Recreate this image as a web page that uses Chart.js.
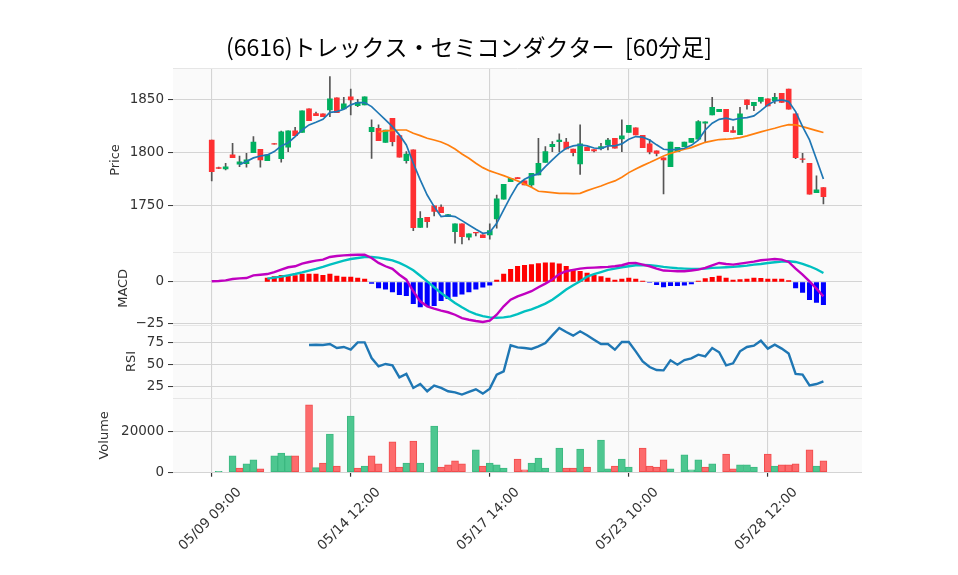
<!DOCTYPE html>
<html>
<head>
<meta charset="utf-8">
<script src="https://cdn.jsdelivr.net/npm/chart.js@4.4.1/dist/chart.umd.min.js"></script>
<style>
html,body{margin:0;padding:0;background:#fff;}
#wrap{width:958px;height:575px;position:relative;}
</style>
</head>
<body>
<div id="wrap"><canvas id="c" width="958" height="575"></canvas></div>
<script>
const chartTitle = '(6616)トレックス・セミコンダクター  [60分足]';
const xTickValues = [0, 20, 40, 60, 80];
const xTickLabels = ['05/09 09:00', '05/14 12:00', '05/17 14:00', '05/23 10:00', '05/28 12:00'];
const priceTicks = [1750, 1800, 1850];
const macdTicks = [-25, 0];
const rsiTicks = [25, 50, 75];
const volumeTicks = [0, 20000];

const opens = [1811.6,1785.5,1784.3,1797.5,1788.7,1789.3,1799.7,1802.8,1792.1,1808.3,
1794,1804.7,1820.1,1818.6,1840.9,1836.5,1836.2,1840,1851.3,1840.9,
1852.2,1844,1844.7,1819.5,1822.6,1809.4,1832,1815.7,1792.1,1802.2,
1729.2,1738.7,1749.4,1748.4,1739.3,1725.2,1732.4,1719.8,1724.5,1722,
1722,1737.1,1755.7,1772.3,1776,1773,1769.2,1778.6,1790.3,1805.3,
1810,1809.7,1803.1,1789,1804.7,1802.5,1803.5,1806.9,1813.2,1812.6,
1818.6,1823,1816,1807.9,1801.3,1794.7,1786.5,1800.6,1805.3,1809.4,
1812.3,1827.4,1835.2,1838.4,1840.6,1820.4,1816.7,1849.4,1844,1848,
1850.3,1848.7,1855.7,1859.7,1836.2,1793.9,1789.6,1762,1766.7];
const highs = [1811.6,1786,1789.6,1808.5,1796.5,1799,1814.8,1802.8,1797.5,1808.3,
1820,1820.1,1823.6,1839,1840.9,1837.8,1836.2,1871.4,1851.3,1851.9,
1859.7,1850,1852.2,1830.5,1825.8,1821,1832,1815.7,1800.6,1802.2,
1744,1738.7,1749.4,1750.3,1741.5,1732.4,1732.4,1723,1724.5,1722,
1732.4,1759.7,1769.8,1775.5,1776,1773,1780.2,1813.2,1805.3,1810,
1817.3,1813.2,1803.1,1825.8,1804.7,1802.5,1808.5,1813.2,1813.2,1830.5,
1825.5,1823,1816,1812.3,1801.3,1794.7,1809.7,1804.7,1809.7,1813.2,
1830,1828.6,1851.9,1840.6,1840.6,1824.2,1842.5,1849.4,1847.2,1851.9,
1850.3,1855.7,1855.7,1859.7,1836.2,1799,1789.6,1777.7,1766.7];
const lows = [1773,1784.5,1783.3,1795,1786.5,1786,1799.7,1786,1792.1,1807.6,
1790.6,1800.6,1815.7,1818.6,1829.9,1834.6,1833.6,1833.6,1837.4,1840.9,
1835.2,1843,1844.7,1794.3,1811,1809.4,1806,1795.3,1789.6,1726.1,
1729.2,1729.2,1740,1743.1,1739.3,1714.2,1713.5,1717.3,1721,1719.5,
1718,1728.3,1755.7,1772.3,1775,1769.2,1767,1778.6,1790.3,1800.6,
1800.6,1803.1,1796.5,1779.2,1801.6,1800.3,1802.2,1802.2,1803.8,1800.6,
1818.6,1816.4,1804.4,1798.4,1796.5,1760.7,1786.5,1800.6,1805.3,1809.4,
1812.3,1810,1835.2,1838.4,1819.5,1818.6,1816.7,1840.6,1839.3,1846.3,
1843.7,1846,1846.9,1840.6,1794,1790.3,1760.4,1762,1751.3];
const closes = [1781.8,1784.8,1786.2,1795,1790.9,1792.8,1809.7,1792.8,1797.5,1807.6,
1819.2,1820.1,1815.7,1839,1829.9,1834.6,1833.6,1850.3,1837.4,1845.6,
1849.4,1847.2,1852.2,1823.6,1811,1821,1810,1795.3,1798.4,1728.9,
1737.7,1734.6,1744.3,1743.1,1741.2,1732.4,1720.4,1723,1723.8,1719.5,
1726.1,1756,1769.8,1775.5,1775,1769.2,1780.2,1789.6,1800.6,1807.5,
1811.6,1803.1,1799.7,1807.9,1801.6,1801.3,1805.3,1811.6,1803.8,1815.4,
1825.5,1816.4,1804.4,1800.3,1799,1792.8,1809.7,1804.7,1809.7,1813.2,
1829,1828.6,1842.5,1840.6,1819.5,1818.6,1836.2,1845,1847.2,1851.9,
1843.7,1851.9,1846.9,1840.6,1795,1793.2,1760.4,1764.5,1758.2];
const volumes = [0,500,0,7970,2110,4070,6020,1630,0,7970,
9430,7970,7970,0,32850,2280,4550,18700,3090,0,
27480,2110,3090,7970,4070,0,14800,2600,4550,15280,
4550,0,22600,2600,3580,5530,4070,0,10900,3090,
4550,3580,2110,0,6500,1140,4550,6990,2110,0,
11870,2110,2110,11380,2600,0,15770,1630,3090,6500,
2600,0,11870,3090,2600,6020,1630,0,8460,1140,
6020,2600,4070,0,8940,1630,3580,3580,2600,0,
8940,3090,3580,3580,4070,0,10900,3090,5530];
const maShort = [null,null,null,null,1788.4,1791.2,1794.7,1796.5,1797.5,1800.6,
1806,1809,1814.8,1821,1825.8,1828.3,1831.1,1837.7,1838.4,1840.6,
1844.7,1846.9,1846.9,1843.1,1836.8,1830.5,1824.2,1816.4,1806.9,1789.6,
1773.9,1759.7,1748.7,1739.3,1740.3,1739.3,1735.5,1731.4,1727.4,1723.6,
1724.5,1733,1745.6,1758.2,1769.2,1774.5,1777.7,1779.6,1786.5,1792.8,
1799,1803.8,1806,1807,1806,1804,1803.5,1806,1806,1807.9,
1812.3,1814.8,1814.2,1811.6,1807,1802.8,1802.2,1802.8,1803.8,1806.5,
1811.5,1821,1827.4,1831.1,1832.1,1830.5,1832.1,1832.7,1834.3,1839.3,
1844.7,1848.4,1849.4,1847.8,1838.4,1824.2,1811.6,1793.4,1774.8];
const maLong = [null,null,null,null,null,null,null,null,null,null,
null,null,null,null,null,null,null,null,null,null,
null,null,null,null,1819.2,1820.1,1820.7,1821,1821,1817.9,
1815.7,1813.2,1811.6,1809.7,1806.9,1803.1,1798.4,1794.3,1789.6,1785.5,
1782.4,1780.2,1778,1775.5,1773,1770.1,1767,1763.2,1762.6,1762,
1761.3,1761.2,1761,1761.3,1763.8,1766,1768.2,1770.8,1773,1776.4,
1780.8,1784.3,1787.4,1790.3,1793.4,1796.5,1799,1800.9,1802.8,1804.4,
1807,1809.4,1810.7,1812,1812.3,1812.9,1813.8,1815.4,1817.3,1819.2,
1821,1822.6,1824.5,1826.1,1825.8,1824.2,1822.3,1820.4,1818.6];
const macdLine = [0.4,0.6,1.0,1.8,2.2,2.4,4.0,4.4,4.8,6.0,
7.5,8.9,9.5,11.1,12.1,12.9,13.5,15.1,15.7,16.1,
16.3,16.5,16.5,14.5,11.5,9.5,7.9,4.4,1.4,-5.6,
-11.7,-14.7,-16.1,-17.3,-18.3,-19.8,-21.8,-22.8,-23.6,-24.2,
-23.4,-19.8,-14.7,-10.7,-8.7,-7.2,-5.6,-3.2,-1.0,1.5,
4.8,6.5,7.3,8.1,8.5,8.7,8.9,9.1,9.5,10.1,
11.3,11.5,10.5,9.5,8.1,6.9,6.7,6.5,6.5,6.9,
7.5,8.5,10.1,11.5,10.9,10.5,11.1,11.7,12.3,13.1,
13.5,13.9,13.5,12.1,8.1,4.4,0.4,-4.0,-8.7];
const signalLine = [null,null,null,null,null,null,null,null,2.0,2.6,
3.2,4.0,4.8,5.8,6.9,7.9,9.1,10.5,11.7,12.9,
13.9,14.5,15.1,15.1,14.7,13.9,13.1,11.5,9.5,7.1,
3.8,0.4,-3.2,-6.7,-9.7,-12.7,-15.3,-17.7,-19.4,-20.6,
-21.4,-21.6,-21.4,-20.8,-19.4,-17.7,-16.5,-14.9,-13.1,-10.7,
-7.7,-4.6,-2.0,0.4,3.2,4.8,6.0,7.3,8.1,8.9,
9.5,10.1,10.3,10.1,9.7,9.1,8.7,8.3,8.1,7.9,
7.9,8.1,8.5,8.7,8.9,9.1,9.5,9.9,10.5,10.9,
11.5,11.9,12.3,12.5,12.1,10.9,9.5,7.7,5.4];
const macdHist = [null,null,null,null,null,null,null,null,2.4,3.2,
4.0,4.0,3.8,4.8,4.8,4.8,4.0,4.8,3.6,3.0,
3.0,2.4,1.8,-0.8,-3.6,-4.4,-6.0,-7.7,-8.3,-13.1,
-15.1,-14.3,-14.3,-11.3,-10.1,-8.7,-7.3,-6.0,-4.4,-3.2,
-2.0,1.2,4.8,7.7,9.5,10.1,10.5,11.1,11.5,11.5,
10.9,9.5,7.5,6.5,5.4,4.0,3.2,2.4,1.2,1.8,
2.4,1.8,0.6,-0.3,-1.6,-3.0,-2.2,-2.2,-2.0,-1.2,
0.6,2.0,2.8,3.6,2.4,1.2,1.4,1.8,2.4,2.2,
1.8,1.8,1.8,0.8,-3.6,-6.3,-10.7,-12.3,-13.7];
const rsiLine = [null,null,null,null,null,null,null,null,null,null,
null,null,null,null,72.0,72.3,72.0,73.1,68.5,69.7,
66.6,75.0,75.0,57.1,47.6,50.3,48.7,35.0,38.9,22.9,
27.4,19.1,25.5,22.9,19.1,17.9,15.3,18.3,21.3,16.4,
22.1,38.1,41.9,71.6,69.3,68.5,67.4,70.4,74.2,83.0,
91.4,86.8,82.6,87.6,83.0,78.0,73.1,73.1,66.6,75.4,
75.4,64.7,53.3,46.8,43.4,43.0,54.5,49.5,54.8,56.7,
60.9,59.0,68.5,63.6,48.7,51.0,64.7,69.7,71.2,76.9,
67.8,72.3,67.8,62.1,38.9,38.1,25.9,27.4,30.5];

const UP = '#00b060', DOWN = '#fe3032';
const VUP = '#4dc790', VDOWN = '#fd6b6c';
const GRID = '#d4d4d4';
const TICKCOL = '#333333';
const FONT = 'DejaVu Sans';

const pts = arr => arr.map((v, i) => ({x: i, y: v})).filter(p => p.y !== null);

const bodies = opens.map((o, i) => ({x: i, y: [o, closes[i]]}));
const wicks = lows.map((l, i) => ({x: i, y: [l, highs[i]]}));
const vols = volumes.map((v, i) => ({x: i, y: v}));

const plainLabel = v => v < 0 ? '\u2212' + Math.abs(v) : String(v);

function yAxis(opts) {
  return Object.assign({
    type: 'linear', axis: 'y', position: 'left', stack: 'panels',
    border: {display: false},
    grid: {color: GRID, lineWidth: 1.1, drawTicks: true, tickLength: 5, tickColor: TICKCOL, tickWidth: 1},
    ticks: {font: {family: FONT, size: 13.5}, color: TICKCOL, padding: 4, callback: plainLabel},
    afterFit: s => { s.width = 97; }
  }, opts);
}

const bgPlugin = {
  id: 'bg',
  beforeDraw(chart) {
    const {ctx, chartArea: a} = chart;
    ctx.save();
    ctx.fillStyle = '#ffffff';
    ctx.fillRect(0, 0, chart.width, chart.height);
    ctx.fillStyle = '#fafafa';
    ctx.fillRect(a.left, a.top, a.right - a.left, a.bottom - a.top);
    ctx.restore();
  },
  beforeDatasetsDraw(chart) {
    const {ctx, chartArea: a} = chart;
    ctx.save();
    ctx.strokeStyle = '#e6e6e6';
    ctx.lineWidth = 1;
    ['yPrice', 'yMacd', 'yRsi', 'yVol'].forEach(id => {
      const s = chart.scales[id];
      ctx.beginPath();
      ctx.moveTo(a.left, Math.round(s.top) + 0.5);
      ctx.lineTo(a.right, Math.round(s.top) + 0.5);
      ctx.stroke();
    });
    ctx.restore();
  },
  afterDraw(chart) {
    const {ctx, chartArea: a} = chart;
    const xs = chart.scales.x;
    ctx.save();
    ctx.font = '13.5px "' + FONT + '"';
    ctx.fillStyle = TICKCOL;
    ctx.textAlign = 'center';
    ctx.textBaseline = 'middle';
    xTickValues.forEach((v, k) => {
      const px = xs.getPixelForValue(v);
      ctx.save();
      ctx.translate(px - 1.4, a.bottom + 46.5);
      ctx.rotate(-Math.PI / 4);
      ctx.fillText(xTickLabels[k], 0, 0);
      ctx.restore();
    });
    ctx.restore();
  }
};

new Chart(document.getElementById('c'), {
  type: 'line',
  data: {
    datasets: [
      {type: 'line', label: 'MA short', data: pts(maShort), yAxisID: 'yPrice', xAxisID: 'x',
       borderColor: '#1f77b4', borderWidth: 1.7, pointRadius: 0, tension: 0, order: 0},
      {type: 'line', label: 'MA long', data: pts(maLong), yAxisID: 'yPrice', xAxisID: 'x',
       borderColor: '#ff7f0e', borderWidth: 1.7, pointRadius: 0, tension: 0, order: 0},
      {type: 'bar', label: 'body', data: bodies, yAxisID: 'yPrice', xAxisID: 'x', grouped: false,
       barThickness: 5, borderWidth: 0, order: 1,
       backgroundColor: c => closes[c.dataIndex] >= opens[c.dataIndex] ? UP : DOWN},
      {type: 'bar', label: 'wick', data: wicks, yAxisID: 'yPrice', xAxisID: 'x', grouped: false,
       barThickness: 1, borderWidth: 0, order: 2, backgroundColor: '#555555'},
      {type: 'line', label: 'MACD', data: pts(macdLine), yAxisID: 'yMacd', xAxisID: 'x',
       borderColor: '#c000c0', borderWidth: 2.4, pointRadius: 0, tension: 0, order: 0},
      {type: 'line', label: 'Signal', data: pts(signalLine), yAxisID: 'yMacd', xAxisID: 'x',
       borderColor: '#00c0c0', borderWidth: 2.4, pointRadius: 0, tension: 0, order: 0},
      {type: 'bar', label: 'Hist', data: pts(macdHist), yAxisID: 'yMacd', xAxisID: 'x', grouped: false,
       barThickness: 4.4, borderWidth: 0, order: 3,
       backgroundColor: c => (c.raw && c.raw.y >= 0) ? '#ff0000' : '#0000ff'},
      {type: 'line', label: 'RSI', data: pts(rsiLine), yAxisID: 'yRsi', xAxisID: 'x',
       borderColor: '#1f77b4', borderWidth: 2.4, pointRadius: 0, tension: 0, order: 0},
      {type: 'bar', label: 'Volume', data: vols, yAxisID: 'yVol', xAxisID: 'x', grouped: false,
       barThickness: 7, borderWidth: 1, borderSkipped: false, order: 3,
       backgroundColor: c => { const i = c.dataIndex; return (i > 0 && closes[i] < closes[i - 1]) ? VDOWN : VUP; },
       borderColor: c => { const i = c.dataIndex; return (i > 0 && closes[i] < closes[i - 1]) ? '#f04c4d' : '#3bb880'; }}
    ]
  },
  options: {
    responsive: false,
    animation: false,
    events: [],
    layout: {padding: {left: 76, right: 96, top: 0, bottom: 0}},
    plugins: {
      legend: {display: false},
      tooltip: {enabled: false},
      title: {display: true, text: chartTitle, color: '#000000',
              font: {family: 'Noto Sans CJK JP', size: 23, weight: 'normal'},
              padding: {top: 33, bottom: 7.7}}
    },
    scales: {
      x: {
        type: 'linear', axis: 'x', position: 'bottom', min: -5.57, max: 93.55, offset: false,
        border: {display: false},
        grid: {color: GRID, lineWidth: 1.1, offset: false, drawTicks: true, tickLength: 4, tickColor: TICKCOL, tickWidth: 1.2},
        ticks: {display: false},
        afterBuildTicks: s => { s.ticks = xTickValues.map(v => ({value: v})); },
        afterFit: s => { s.height = 102.3; }
      },
      yPrice: yAxis({stackWeight: 183.4, weight: 4, min: 1706.2, max: 1879.2,
        afterBuildTicks: s => { s.ticks = priceTicks.map(v => ({value: v})); },
        title: {display: true, text: 'Price', color: TICKCOL, font: {family: FONT, size: 13}, padding: {top: 32.2, bottom: 0}}}),
      yMacd: yAxis({stackWeight: 73.3, weight: 3, min: -26.0, max: 18.3,
        afterBuildTicks: s => { s.ticks = macdTicks.map(v => ({value: v})); },
        title: {display: true, text: 'MACD', color: TICKCOL, font: {family: FONT, size: 13}, padding: {top: 40.2, bottom: 0}}}),
      yRsi: yAxis({stackWeight: 73, weight: 2, min: 11.4, max: 94.8,
        afterBuildTicks: s => { s.ticks = rsiTicks.map(v => ({value: v})); },
        title: {display: true, text: 'RSI', color: TICKCOL, font: {family: FONT, size: 13}, padding: {top: 48.2, bottom: 0}}}),
      yVol: yAxis({stackWeight: 74.7, weight: 1, min: -200, max: 36240,
        afterBuildTicks: s => { s.ticks = volumeTicks.map(v => ({value: v})); },
        title: {display: true, text: 'Volume', color: TICKCOL, font: {family: FONT, size: 13}, padding: {top: 20.7, bottom: 0}}})
    }
  },
  plugins: [bgPlugin]
});
</script>
</body>
</html>
